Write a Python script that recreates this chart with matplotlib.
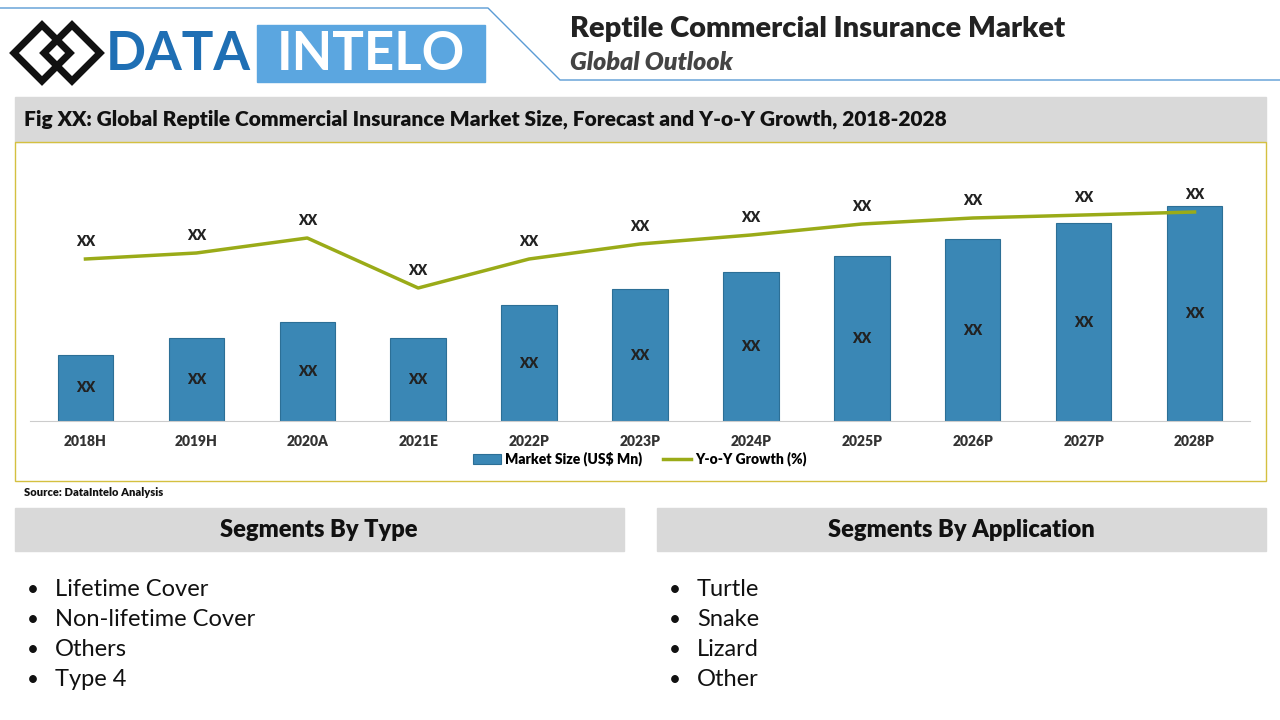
import matplotlib
matplotlib.use("Agg")
import matplotlib.pyplot as plt
from matplotlib.patches import Rectangle, Polygon
from matplotlib.lines import Line2D

plt.rcParams['font.family'] = ['Lato', 'DejaVu Sans']

years = ["2018H","2019H","2020A","2021E","2022P","2023P","2024P","2025P","2026P","2027P","2028P"]
market_size = [66, 83, 99, 83, 116, 132, 149, 165, 182, 198, 215]
yoy_growth = [162, 168, 183, 133, 162, 177, 186, 197, 203, 206, 209]
type_segments = ["Lifetime Cover", "Non-lifetime Cover", "Others", "Type 4"]
app_segments = ["Turtle", "Snake", "Lizard", "Other"]

W, H = 1280, 720
fig = plt.figure(figsize=(12.8, 7.2), dpi=100)
bg = fig.add_axes([0, 0, 1, 1])
bg.set_xlim(0, W); bg.set_ylim(H, 0); bg.axis('off')

# Header
bg.add_line(Line2D([0, 488, 560, 1280], [8, 8, 80, 80], color='#5b9bd5', lw=1))
for cx in (42, 72):
    bg.add_patch(Polygon([[cx-28, 53], [cx, 25], [cx+28, 53], [cx, 81]], closed=True, fill=False, ec='#111', lw=5))
bg.text(106, 55, "DATA", fontsize=38, fontweight='bold', color='#1f6fb4', va='center', ha='left')
bg.add_patch(Rectangle((257, 25), 228, 57, color='#5ba6e0'))
bg.text(371, 55, "INTELO", fontsize=38, fontweight='bold', color='white', va='center', ha='center')
bg.text(570, 29, "Reptile Commercial Insurance Market", fontsize=21, fontweight='heavy', color='#222', va='center')
bg.text(570, 63, "Global Outlook", fontsize=18, fontweight='heavy', style='italic', color='#444', va='center')

# Fig title bar
bg.add_patch(Rectangle((15, 97), 1251, 45, color='#d9d9d9'))
bg.text(24, 119, "Fig XX: Global Reptile Commercial Insurance Market Size, Forecast and Y-o-Y Growth, 2018-2028",
        fontsize=15, fontweight='heavy', color='#111', va='center')
bg.add_patch(Rectangle((15, 142), 1251, 339, fill=False, ec='#d4c040', lw=1))
bg.text(24, 493, "Source: DataIntelo Analysis", fontsize=8, fontweight='heavy', color='#111', va='center')

# Chart
ax_l, ax_r, ax_b, ax_t = 30, 1250, 421, 160
ax = fig.add_axes([ax_l/W, 1-ax_b/H, (ax_r-ax_l)/W, (ax_b-ax_t)/H])
x = list(range(len(years)))
bars = ax.bar(x, market_size, width=0.5, color='#3a87b5', ec='#2c6f96', lw=0.8, label='Market Size (US$ Mn)')
line, = ax.plot(x, yoy_growth, color='#9aab18', lw=2.5, label='Y-o-Y Growth (%)')
ax.set_xlim(-0.5, len(years)-0.5); ax.set_ylim(0, ax_b-ax_t)
for s in ['top', 'right', 'left']:
    ax.spines[s].set_visible(False)
ax.spines['bottom'].set_color('#ccc')
ax.set_yticks([])
ax.set_xticks(x); ax.set_xticklabels(years, fontsize=10, fontweight='heavy', color='#333')
ax.tick_params(axis='x', length=0, pad=10)
ax.patch.set_alpha(0)
for i in x:
    ax.text(i, market_size[i]/2, "XX", ha='center', va='center', fontsize=10, fontweight='heavy', color='#222')
    ax.text(i, yoy_growth[i] + 18, "XX", ha='center', va='center', fontsize=10, fontweight='heavy', color='#222')
ax.legend([bars, line], ['Market Size (US$ Mn)', 'Y-o-Y Growth (%)'], loc='center', bbox_to_anchor=(0.5, -38/261),
          ncol=2, frameon=False, handlelength=2, handletextpad=0.3, columnspacing=1.5,
          prop={'weight': 'heavy', 'size': 10})

# Segments
for x0, title, items in ((15, "Segments By Type", type_segments), (657, "Segments By Application", app_segments)):
    bg.add_patch(Rectangle((x0, 508), 609, 43, color='#d9d9d9'))
    bg.text(x0 + 304, 530, title, fontsize=17, fontweight='heavy', color='#111', ha='center', va='center')
    for k, it in enumerate(items):
        y = 590 + 30*k
        bg.text(x0 + 12, y, "•", fontsize=15, va='center', color='#111')
        bg.text(x0 + 40, y, it, fontsize=17, va='center', color='#111')

fig.savefig("out.png", dpi=100)
